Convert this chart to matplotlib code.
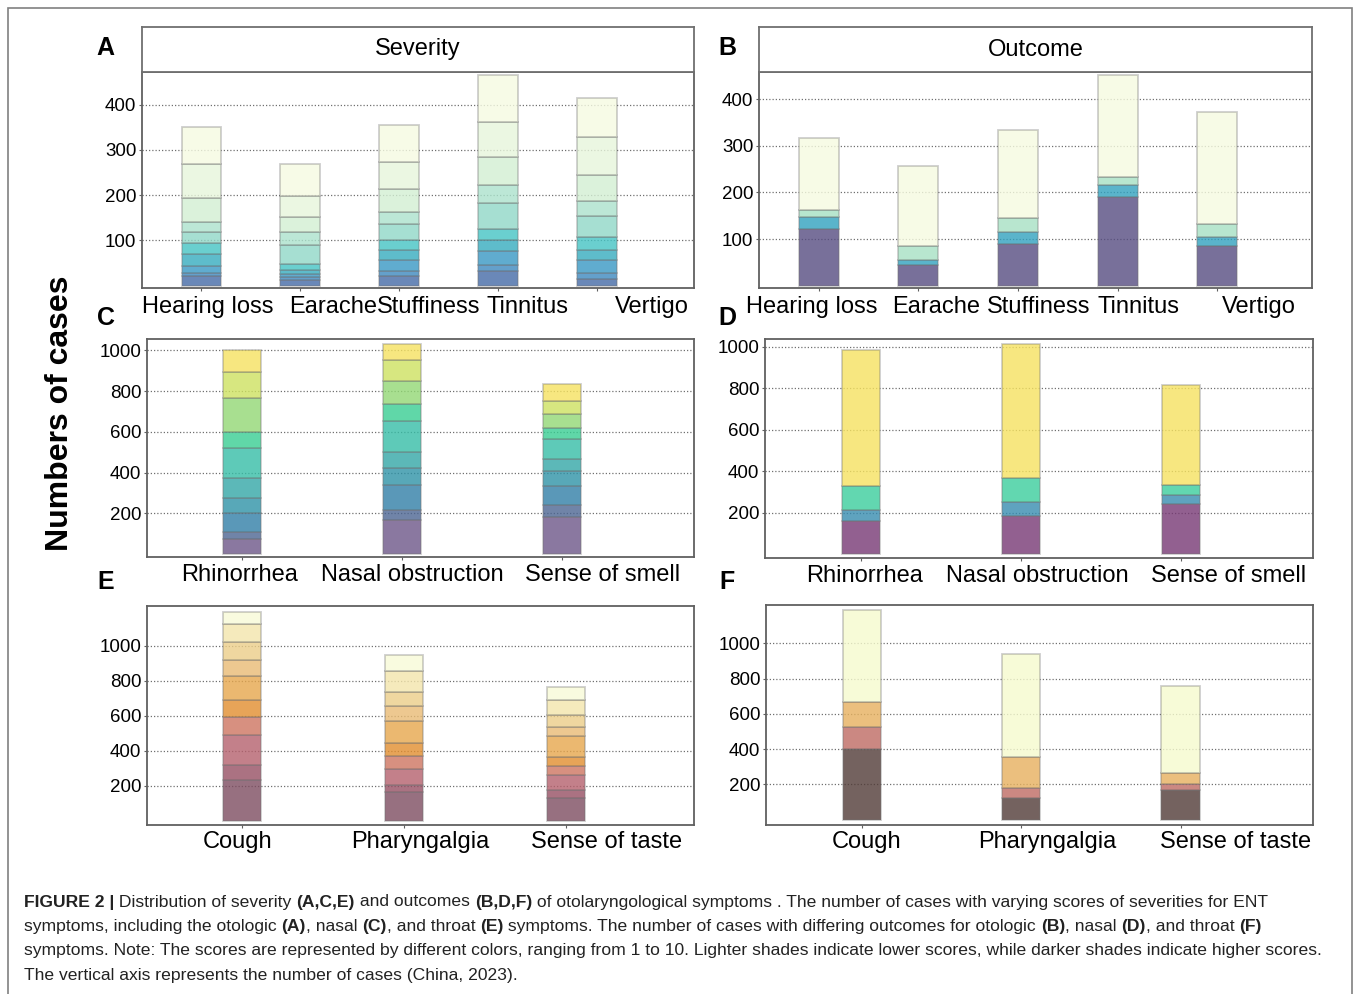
import numpy as np
import matplotlib
matplotlib.use("Agg")
import matplotlib.pyplot as plt
from matplotlib.colors import to_rgb
from matplotlib.patches import Rectangle

plt.rcParams['font.family'] = ['Liberation Sans', 'DejaVu Sans']

W, H = 1354, 994

# ---- data (segments listed bottom -> top) ----
oto_labels = ["Hearing loss", "Earache", "Stuffiness", "Tinnitus", "Vertigo"]
oto_severity = [
    [22, 6, 16, 27, 23, 24, 22, 53, 75, 82],
    [13, 7, 7, 7, 13, 42, 30, 32, 48, 69],
    [22, 10, 24, 22, 24, 35, 26, 50, 61, 82],
    [32, 14, 30, 24, 26, 56, 40, 63, 77, 104],
    [15, 13, 28, 22, 30, 47, 32, 58, 83, 87],
]
oto_outcome = [
    [121, 26, 16, 153],
    [44, 12, 30, 170],
    [90, 26, 28, 190],
    [191, 25, 18, 217],
    [86, 18, 29, 239],
]

nasal_labels = ["Rhinorrhea", "Nasal obstruction", "Sense of smell"]
nasal_severity = [
    [72, 36, 92, 77, 97, 149, 77, 164, 131, 105],
    [166, 50, 122, 85, 79, 152, 82, 113, 102, 82],
    [180, 63, 91, 73, 62, 98, 53, 70, 62, 84],
]
nasal_outcome = [
    [163, 53, 115, 651],
    [187, 66, 115, 643],
    [243, 41, 49, 485],
]

throat_labels = ["Cough", "Pharyngalgia", "Sense of taste"]
throat_severity = [
    [234, 86, 171, 101, 99, 138, 89, 103, 105, 70],
    [162, 44, 89, 76, 73, 129, 84, 80, 118, 94],
    [130, 47, 84, 49, 52, 120, 57, 67, 82, 80],
]
throat_outcome = [
    [402, 123, 145, 519],
    [125, 54, 174, 585],
    [170, 34, 60, 496],
]

# colours, bottom -> top
oto_sev_colors = ['#6a88b8', '#64a0cc', '#60acd0', '#5ebccc', '#6ad0d0',
                  '#a6dfd2', '#bce8d6', '#dcf2dc', '#ecf7e2', '#f8fce8']
oto_out_colors = ['#78709a', '#5ab4cc', '#b8e6d0', '#f8fce6']
nasal_sev_colors = ['#8a78a0', '#7084a8', '#5a98b8', '#58a8b8', '#5cb8b8',
                    '#5ecab8', '#60d8a8', '#a8e090', '#d8e880', '#f8e880']
nasal_out_colors = ['#926090', '#5fa3c0', '#62d8b0', '#f8e880']
throat_sev_colors = ['#977080', '#ab7282', '#c4808a', '#d89080', '#e8a458',
                     '#ebb870', '#edc990', '#f0d8a0', '#f5eabc', '#f9fce0']
throat_out_colors = ['#74625f', '#cc8882', '#ebc07e', '#f8fcd8']


def box(x0, y0, x1, y1):
    return [x0 / W, 1 - y1 / H, (x1 - x0) / W, (y1 - y0) / H]


def unmix(c, a=0.8):
    rgb = (np.array(to_rgb(c)) - (1 - a)) / a
    return tuple(np.clip(rgb, 0, 1)) + (a,)


def stacked(ax, segs, colors, width):
    x = np.arange(len(segs))
    segs = np.array(segs, dtype=float)
    bottom = np.zeros(len(segs))
    for k in range(segs.shape[1]):
        ax.bar(x, segs[:, k], width, bottom=bottom, color=unmix(colors[k]),
               edgecolor=(0.45, 0.45, 0.45, 0.35), linewidth=1.3, zorder=2)
        bottom += segs[:, k]


def style(ax, labels, shifts_px, xlim, ylim, yticks, pad=4):
    ax.set_xlim(*xlim)
    ax.set_ylim(*ylim)
    x = np.arange(len(labels))
    ax.set_xticks(x, [''] * len(labels))
    # labels sit a little right of the bars in the original figure
    px_per_unit = ax.get_position().width * W / (xlim[1] - xlim[0])
    ax.set_xticks(x + np.array(shifts_px) / px_per_unit, labels, minor=True,
                  fontsize=17)
    ax.tick_params(axis='x', which='minor', length=0, pad=pad + 2)
    ax.set_yticks(yticks, [str(v) for v in yticks], fontsize=13.5)
    ax.grid(axis='y', which='major', linestyle=(0, (1, 1.6)), color='#707070',
            linewidth=0.9)
    ax.set_axisbelow(True)
    for s in ax.spines.values():
        s.set_color('#606060')
        s.set_linewidth(1.3)
    ax.tick_params(axis='x', which='major', length=2, color='#606060')
    ax.tick_params(axis='y', length=2, pad=2, color='#606060')


def strip(fig, rect, title):
    sa = fig.add_axes(box(*rect))
    sa.set_xticks([])
    sa.set_yticks([])
    for s in sa.spines.values():
        s.set_color('#707070')
        s.set_linewidth(1.3)
    sa.text(0.5, 0.5, title, ha='center', va='center', fontsize=17,
            transform=sa.transAxes)


fig = plt.figure(figsize=(W / 100, H / 100), dpi=100)

# A
axA = fig.add_axes(box(142, 72, 694, 288))
stacked(axA, oto_severity, oto_sev_colors, 0.4)
style(axA, oto_labels, [6, 33, 29, 29, 55], (-0.6, 4.98), (-5, 472),
      [100, 200, 300, 400])
strip(fig, (142, 27, 694, 72), "Severity")

# B
axB = fig.add_axes(box(759, 72, 1312, 288))
stacked(axB, oto_outcome, oto_out_colors, 0.4)
style(axB, oto_labels, [-7, 18, 21, 21, 41], (-0.6, 4.95), (-5, 458),
      [100, 200, 300, 400])
strip(fig, (759, 27, 1312, 72), "Outcome")

# C
axC = fig.add_axes(box(147, 339, 694, 557))
stacked(axC, nasal_severity, nasal_sev_colors, 0.24)
style(axC, nasal_labels, [-2, 10, 41], (-0.594, 2.825), (-14, 1056),
      [200, 400, 600, 800, 1000], pad=3)

# D
axD = fig.add_axes(box(765, 339, 1313, 558))
stacked(axD, nasal_outcome, nasal_out_colors, 0.24)
style(axD, nasal_labels, [4, 16, 48], (-0.6, 2.825), (-17, 1037),
      [200, 400, 600, 800, 1000], pad=3)

# E
axE = fig.add_axes(box(147, 606, 694, 825))
stacked(axE, throat_severity, throat_sev_colors, 0.235)
style(axE, throat_labels, [-4, 16, 41], (-0.586, 2.79), (-25, 1229),
      [200, 400, 600, 800, 1000], pad=2)

# F
axF = fig.add_axes(box(766, 605, 1313, 825))
stacked(axF, throat_outcome, throat_out_colors, 0.24)
style(axF, throat_labels, [5, 26, 55], (-0.6, 2.83), (-30, 1217),
      [200, 400, 600, 800, 1000], pad=2)

# panel letters
for letter, (px, py) in {'A': (105, 48), 'B': (727, 48), 'C': (106, 318),
                         'D': (727, 318), 'E': (106, 582), 'F': (727, 582)}.items():
    fig.text(px / W, 1 - py / H, letter, fontsize=18, fontweight='bold',
             ha='center', va='center')

fig.text(60 / W, 1 - 413 / H, "Numbers of cases", rotation=90, fontsize=23,
         fontweight='bold', ha='center', va='center')

# outer frame
fig.add_artist(Rectangle((8 / W, -0.02), (1352 - 8) / W, 1 - 8 / H + 0.02,
                         transform=fig.transFigure, fill=False,
                         edgecolor='#808080', linewidth=1.2))

# caption with bold runs
cap_size = 12.6
renderer = fig.canvas.get_renderer()


def text_width(s, bold):
    t1 = fig.text(0, 0, '|' + s + '|', fontsize=cap_size,
                  fontweight='bold' if bold else 'normal')
    t2 = fig.text(0, 0, '||', fontsize=cap_size,
                  fontweight='bold' if bold else 'normal')
    w = t1.get_window_extent(renderer).width - t2.get_window_extent(renderer).width
    t1.remove()
    t2.remove()
    return w


def draw_line(y, runs, x=24):
    for s, bold in runs:
        fig.text(x / W, 1 - y / H, s, fontsize=cap_size,
                 fontweight='bold' if bold else 'normal', ha='left', va='center',
                 color='#222222')
        x += text_width(s, bold)


caption = [
    [("FIGURE 2 |", True), (" Distribution of severity ", False), ("(A,C,E)", True),
     (" and outcomes ", False), ("(B,D,F)", True),
     (" of otolaryngological symptoms . The number of cases with varying scores of severities for ENT", False)],
    [("symptoms, including the otologic ", False), ("(A)", True), (", nasal ", False),
     ("(C)", True), (", and throat ", False), ("(E)", True),
     (" symptoms. The number of cases with differing outcomes for otologic ", False),
     ("(B)", True), (", nasal ", False), ("(D)", True), (", and throat ", False), ("(F)", True)],
    [("symptoms. Note: The scores are represented by different colors, ranging from 1 to 10. "
      "Lighter shades indicate lower scores, while darker shades indicate higher scores.", False)],
    [("The vertical axis represents the number of cases (China, 2023).", False)],
]
for i, runs in enumerate(caption):
    draw_line(902 + 24.5 * i, runs)

fig.savefig("out.png", dpi=100)
